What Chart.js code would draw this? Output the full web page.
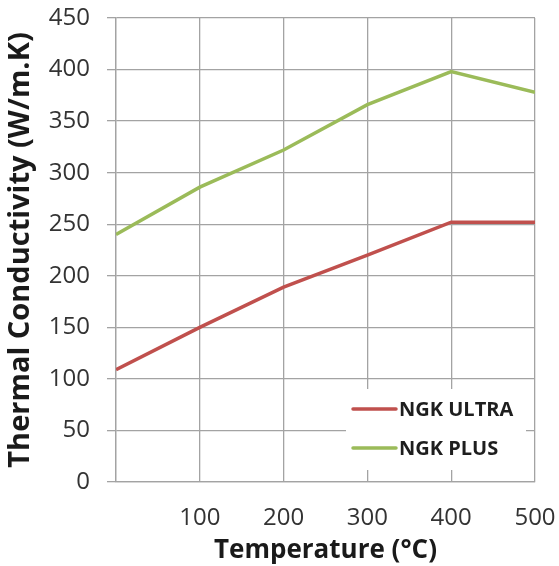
<!DOCTYPE html>
<html>
<head>
<meta charset="utf-8">
<script src="https://cdn.jsdelivr.net/npm/chart.js@4/dist/chart.umd.min.js"></script>
<style>
  html, body { margin: 0; padding: 0; background: #fff; }
  #wrap { width: 559px; height: 566px; }
</style>
</head>
<body>
<div id="wrap"><canvas id="chart"></canvas></div>
<script>
// values
const temps = [0, 100, 200, 300, 400, 500];
const ultra = [109, 150, 189, 220, 252, 252];
const plus = [240, 286, 322, 366, 398, 378];
const seriesNames = ["NGK ULTRA", "NGK PLUS"];
const xTicks = [100, 200, 300, 400, 500];

const FONT = "'Open Sans', sans-serif";
const GRID = "#a3a3a3";

// legend drawn inside the plot, white box over the grid
const innerLegend = {
  id: "innerLegend",
  afterDatasetsDraw(chart) {
    const ctx = chart.ctx;
    const a = chart.chartArea;
    const x0 = a.right - 189, y0 = a.bottom - 93;
    ctx.save();
    ctx.fillStyle = "#fff";
    ctx.fillRect(x0, y0, 180, 81);
    ctx.font = "bold 20px " + FONT;
    ctx.textBaseline = "middle";
    chart.data.datasets.forEach((ds, i) => {
      const y = y0 + 20 + i * 39;
      ctx.strokeStyle = ds.borderColor;
      ctx.lineWidth = 3.5;
      ctx.lineCap = "round";
      ctx.beginPath();
      ctx.moveTo(x0 + 7, y);
      ctx.lineTo(x0 + 50, y);
      ctx.stroke();
      ctx.fillStyle = "#1e1e1e";
      ctx.fillText(ds.label, x0 + 53, y + 1);
    });
    ctx.restore();
  }
};

new Chart(document.getElementById("chart"), {
  type: "line",
  data: {
    datasets: [
      {
        label: seriesNames[0],
        data: temps.map((t, i) => ({ x: t, y: ultra[i] })),
        borderColor: "#c0504d",
        borderWidth: 3.5,
        pointRadius: 0,
        tension: 0
      },
      {
        label: seriesNames[1],
        data: temps.map((t, i) => ({ x: t, y: plus[i] })),
        borderColor: "#9bbb59",
        borderWidth: 3.5,
        pointRadius: 0,
        tension: 0
      }
    ]
  },
  options: {
    responsive: true,
    maintainAspectRatio: false,
    animation: false,
    layout: { padding: { top: 18, right: 24, left: 0, bottom: 0 } },
    plugins: {
      legend: { display: false },
      tooltip: { enabled: false }
    },
    scales: {
      x: {
        type: "linear",
        min: 0,
        max: 500,
        afterBuildTicks: s => { s.ticks = [0].concat(xTicks).map(v => ({ value: v })); },
        afterFit: s => { s.height = 84; s.paddingLeft = 0; s.paddingRight = 0; },
        grid: { color: GRID, lineWidth: 1.3, drawTicks: false },
        border: { color: GRID, width: 1.3 },
        ticks: {
          padding: 22,
          color: "#333",
          font: { family: FONT, size: 24 },
          callback: v => (v === 0 ? "" : v)
        },
        title: {
          display: true,
          text: "Temperature (°C)",
          color: "#1a1a1a",
          font: { family: FONT, size: 26, weight: "bold" },
          padding: { top: 0, bottom: 0 }
        }
      },
      y: {
        min: 0,
        max: 450,
        afterFit: s => { s.width = 116; s.paddingTop = 0; s.paddingBottom = 0; },
        grid: { color: GRID, lineWidth: 1.3, tickLength: 9 },
        border: { color: GRID, width: 1.3 },
        ticks: {
          stepSize: 50,
          padding: 17,
          color: "#333",
          font: { family: FONT, size: 24 }
        },
        title: {
          display: true,
          text: "Thermal Conductivity (W/m.K)",
          color: "#1a1a1a",
          font: { family: FONT, size: 29, weight: "bold" },
          padding: { top: 3, bottom: 0 }
        }
      }
    }
  },
  plugins: [innerLegend]
});
</script>
</body>
</html>
